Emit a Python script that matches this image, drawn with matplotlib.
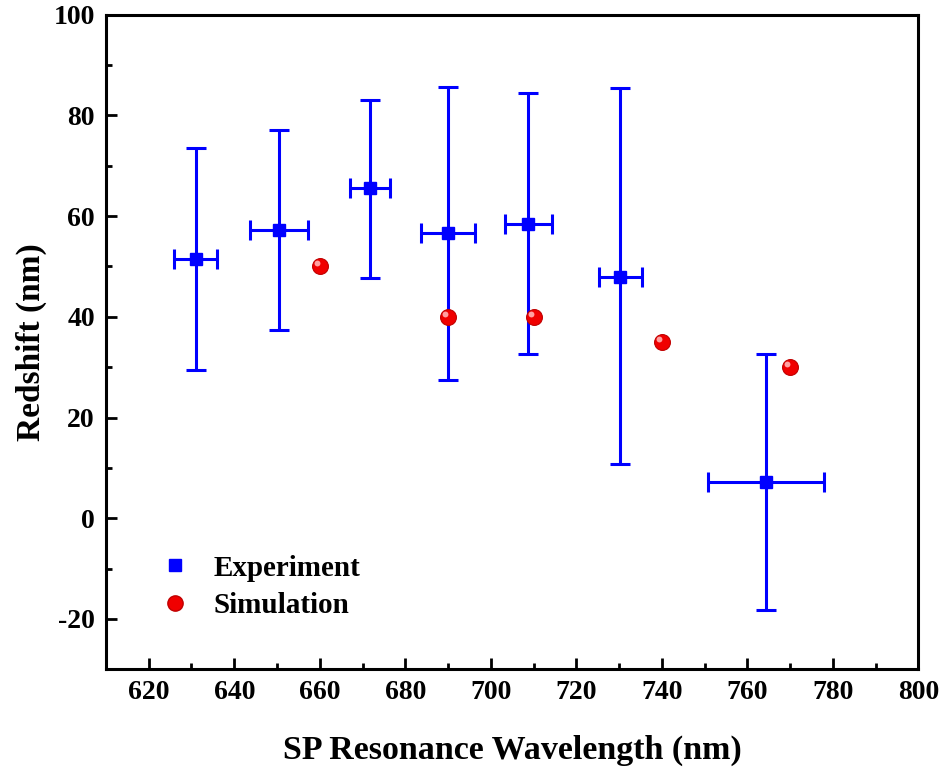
import matplotlib
matplotlib.use('Agg')
import matplotlib.pyplot as plt
from matplotlib.ticker import MultipleLocator
from matplotlib.lines import Line2D

# experiment data
exp_x = [631.0, 650.5, 671.8, 690.0, 708.8, 730.3, 764.4]
exp_y = [51.5, 57.2, 65.5, 56.7, 58.5, 48.0, 7.2]
exp_xerr = [5.0, 6.8, 4.7, 6.4, 5.6, 5.0, 13.6]
exp_yerr_low = [22.0, 19.8, 17.8, 29.2, 25.8, 37.2, 25.4]
exp_yerr_high = [22.1, 19.8, 17.6, 29.0, 25.9, 37.4, 25.5]

# simulation data
sim_x = [660, 690, 710, 740, 770]
sim_y = [50, 40, 40, 35, 30]

plt.rcParams['font.family'] = ['Liberation Serif', 'DejaVu Serif']
plt.rcParams['font.weight'] = 'bold'
plt.rcParams['axes.unicode_minus'] = False

fig = plt.figure(figsize=(9.42, 7.72), dpi=100)
ax = fig.add_axes([0.1125, 0.133, 0.8625, 0.848])

ax.errorbar(exp_x, exp_y, xerr=exp_xerr, yerr=[exp_yerr_low, exp_yerr_high],
            fmt='s', color='#0000ff', ecolor='#0000ff', markersize=9,
            elinewidth=2.2, capsize=7, capthick=2.2, zorder=3)

# red spheres: base dot plus a small highlight
ax.scatter(sim_x, sim_y, s=130, color='#f00000', edgecolors='#c00000',
           linewidths=0.8, zorder=4)
ax.scatter([x - 0.7 for x in sim_x], [y + 0.6 for y in sim_y], s=18,
           color='#ffa0a0', linewidths=0, zorder=5)

ax.set_xlim(610, 800)
ax.set_ylim(-30, 100)
ax.xaxis.set_major_locator(MultipleLocator(20))
ax.xaxis.set_minor_locator(MultipleLocator(10))
ax.yaxis.set_major_locator(MultipleLocator(20))
ax.yaxis.set_minor_locator(MultipleLocator(10))

ax.tick_params(which='both', direction='in', width=2, labelsize=20, pad=8)
ax.tick_params(which='major', length=8)
ax.tick_params(which='minor', length=4)
for s in ax.spines.values():
    s.set_linewidth(2.2)
for lab in ax.get_xticklabels() + ax.get_yticklabels():
    lab.set_fontweight('bold')

ax.set_xlabel('SP Resonance Wavelength (nm)', fontsize=24.5, fontweight='bold', labelpad=21)
ax.set_ylabel('Redshift (nm)', fontsize=24, fontweight='bold', labelpad=5)

handles = [
    Line2D([], [], marker='s', color='#0000ff', linestyle='none', markersize=9),
    Line2D([], [], marker='o', color='#f00000', markeredgecolor='#c00000',
           linestyle='none', markersize=11),
]
ax.legend(handles, ['Experiment', 'Simulation'], loc='lower left',
          bbox_to_anchor=(0.035, 0.037), frameon=False, handlelength=1,
          handletextpad=0.8, labelspacing=0.35,
          prop={'weight': 'bold', 'size': 21})

fig.savefig('out.png', dpi=100)
